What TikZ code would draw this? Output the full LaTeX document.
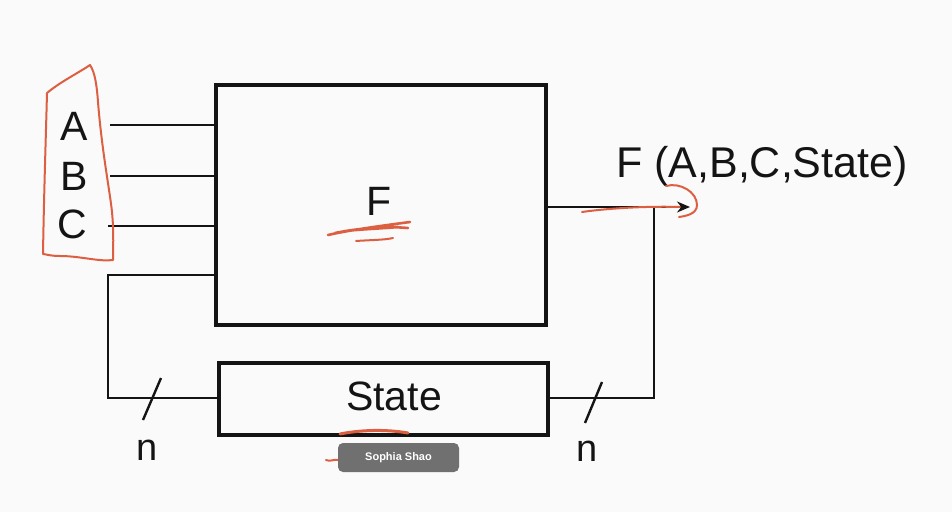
\documentclass[tikz,border=0pt]{standalone}
\usepackage{fontspec}
\setmainfont{Liberation Sans}
\usetikzlibrary{arrows.meta}
\definecolor{ink}{RGB}{20,20,20}
\definecolor{pen}{RGB}{220,95,65}
\definecolor{tagbg}{RGB}{112,112,112}
\begin{document}
\begin{tikzpicture}[x=1pt,y=1pt,
  wire/.style={draw=ink,line width=2.9pt},
  boxstyle/.style={draw=ink,line width=3.2pt,inner sep=0pt},
  lbl/.style={font=\fontsize{41}{48}\selectfont,text=ink,inner sep=0pt},
  nlbl/.style={font=\fontsize{38}{46}\selectfont,text=ink,inner sep=0pt},
  ann/.style={draw=pen,line width=2pt,line cap=round,line join=round}]
\useasboundingbox[fill=gray!4] (0,0) rectangle (952,512);
% boxes
\node[boxstyle,minimum width=330pt,minimum height=240pt] (Fbox) at (381,307) {};
\node[boxstyle,minimum width=329pt,minimum height=72pt] (Sbox) at (383.5,113) {};
\node[lbl] (Flbl) at (379,311) {F};
\node[lbl] (Slbl) at (394,116) {State};
% input labels
\node[lbl] (A) at (74,386) {A};
\node[lbl] (B) at (74,336) {B};
\node[lbl] (C) at (72,288) {C};
% input wires
\coordinate (aS) at (110,387);
\coordinate (bS) at (110,336);
\coordinate (cS) at (108,286);
\coordinate (dS) at (108,237);
\draw[wire] (aS) -- (aS -| Fbox.west);
\draw[wire] (bS) -- (bS -| Fbox.west);
\draw[wire] (cS) -- (cS -| Fbox.west);
% feedback into F
\coordinate (dL) at (108,114);
\draw[wire] (Fbox.west |- dS) -- (dS) -- (dL) -- (dL -| Sbox.west);
% output
\coordinate (oT) at (690,305);
\coordinate (fb) at (654,305);
\draw[wire,-{Stealth[length=13pt,width=11pt]}] (Fbox.east |- oT) -- (oT);
\coordinate (fbB) at (654,114);
\draw[wire] (Sbox.east |- fbB) -- (fbB) -- (fb);
\node[anchor=west,font=\fontsize{43}{50}\selectfont,text=ink,inner sep=0pt] (Out) at (616,346) {F (A,B,C,State)};
% bus slashes
\coordinate (s1a) at (143,92);
\coordinate (s1b) at (161,134);
\draw[wire,line width=2.4pt] (s1a) -- (s1b);
\coordinate (s2a) at (585,89);
\coordinate (s2b) at (602,130);
\draw[wire,line width=2.4pt] (s2a) -- (s2b);
\node[nlbl] (n1) at (147,62) {n};
\node[nlbl] (n2) at (587,61) {n};
% red annotations
\draw[ann] (47,419) .. controls (60,430) and (80,440) .. (90,447)
  .. controls (95,440) and (97,425) .. (98,410)
  .. controls (102,360) and (110,320) .. (112,300)
  .. controls (114,280) and (113,260) .. (113,252)
  .. controls (100,250) and (80,256) .. (60,256)
  .. controls (50,256) and (45,258) .. (43,258)
  .. controls (44,320) and (46,380) .. (47,419);
\draw[ann,line width=2.6pt] (328,277) .. controls (350,282) and (380,286) .. (410,290)
  (335,279) .. controls (360,284) and (385,286) .. (408,284)
  (345,281) .. controls (365,283) and (390,284) .. (398,285);
\draw[ann] (356,271) .. controls (370,272) and (385,272) .. (393,274);
\draw[ann] (582,300) .. controls (610,304) and (650,306) .. (680,305);
\draw[ann] (666,326) .. controls (680,330) and (697,320) .. (697,307)
  .. controls (697,298) and (686,296) .. (679,295);
\draw[ann,line width=3pt] (340,78) .. controls (360,82) and (385,83) .. (408,79);
\draw[ann] (326,52) .. controls (330,50) and (334,53) .. (338,52);
% overlay tag
\node[fill=tagbg,rounded corners=5pt,minimum width=121pt,minimum height=29pt,
  text=white,font=\bfseries\fontsize{11}{13}\selectfont] (tag) at (398.5,54.5) {Sophia Shao};
\end{tikzpicture}
\end{document}
